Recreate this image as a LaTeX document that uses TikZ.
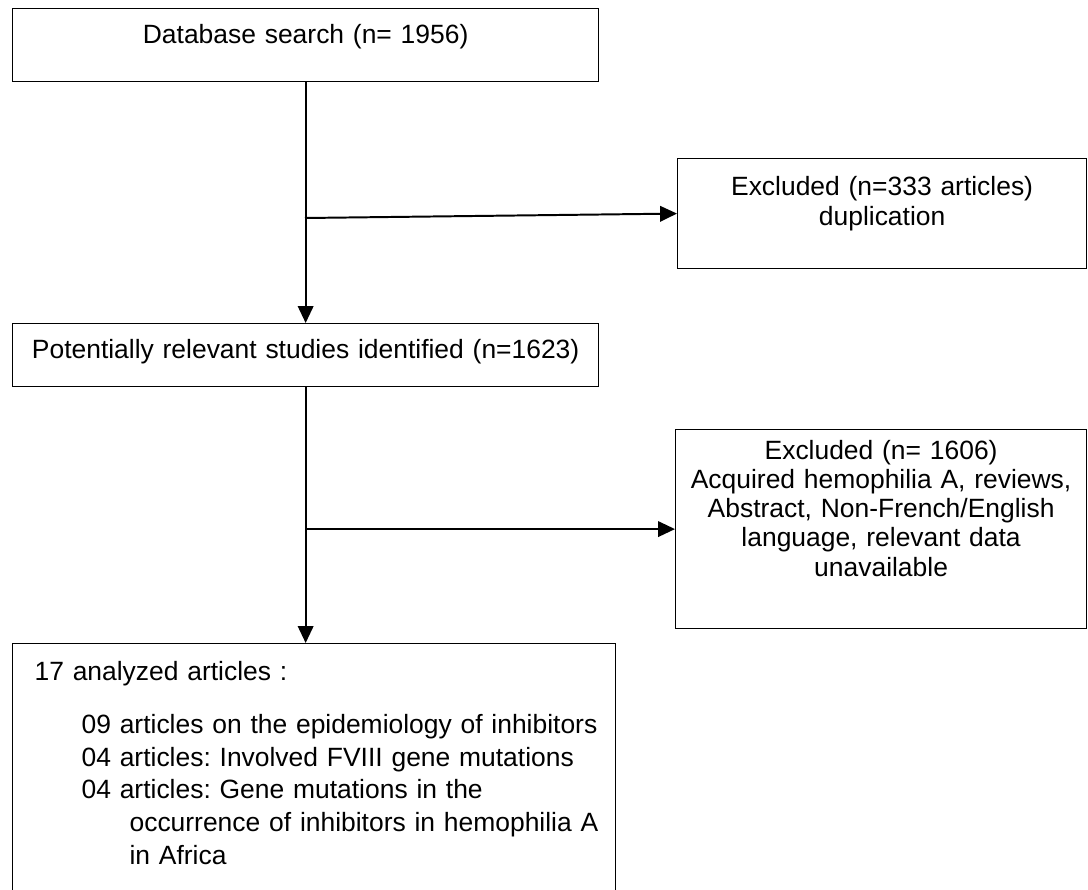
\documentclass[tikz,border=0pt]{standalone}
\usepackage{fontspec}
\setmainfont{Liberation Sans}
\usetikzlibrary{arrows.meta, positioning}
\frenchspacing

\begin{document}
\begin{tikzpicture}[x=0.025cm, y=-0.025cm, font=\fontsize{18.8}{21.3}\selectfont,
  box/.style={draw, line width=0.8pt, inner sep=0pt, anchor=north west, align=center},
  link/.style={line width=1.4pt, -{Triangle[length=12pt, width=11pt]}}]
\useasboundingbox (0,0) rectangle (1088,890);
\node[box, text width=14.65cm, text height=0.875cm, text depth=0.95cm] (search) at (12,8) {Database search (n= 1956)};
\node[box, text width=14.65cm, text height=0.875cm, text depth=0.7cm] (relevant) at (12,323) {Potentially relevant studies identified (n=1623)};
\node[box, text width=10.225cm, text height=0.925cm, text depth=1.825cm] (dupl) at (677,158) {Excluded (n=333 articles)\\duplication};
\node[box, text width=10.275cm, text height=0.75cm, text depth=4.225cm,
  font=\fontsize{18.8}{20.7}\selectfont] (excl) at (675,429) {Excluded (n= 1606)\\Acquired hemophilia A, reviews,\\Abstract, Non-French/English\\language, relevant data\\unavailable};
\node[box, align=left, text width=15.075cm, text height=0.925cm, text depth=5.5cm,
  font=\fontsize{18.8}{23.2}\selectfont] (analyzed) at (12,643) {\leftskip=0.55cm\relax
  17 analyzed articles :\\[0.51cm]
  \hspace*{1.175cm}09 articles on the epidemiology of inhibitors\\
  \hspace*{1.175cm}04 articles: Involved FVIII gene mutations\\
  \hspace*{1.175cm}04 articles: Gene mutations in the\\
  \hspace*{2.375cm}occurrence of inhibitors in hemophilia A\\
  \hspace*{2.375cm}in Africa\par};
% branch points on the main line
\coordinate (split1) at (305,218);
\draw[link] (search.south) -- (relevant.north);
\draw[link] (split1) -- (dupl.west);
\draw[link] (relevant.south) -- (relevant.south |- analyzed.north);
\draw[link] (relevant.south |- excl.west) -- (excl.west);
\end{tikzpicture}
\end{document}
